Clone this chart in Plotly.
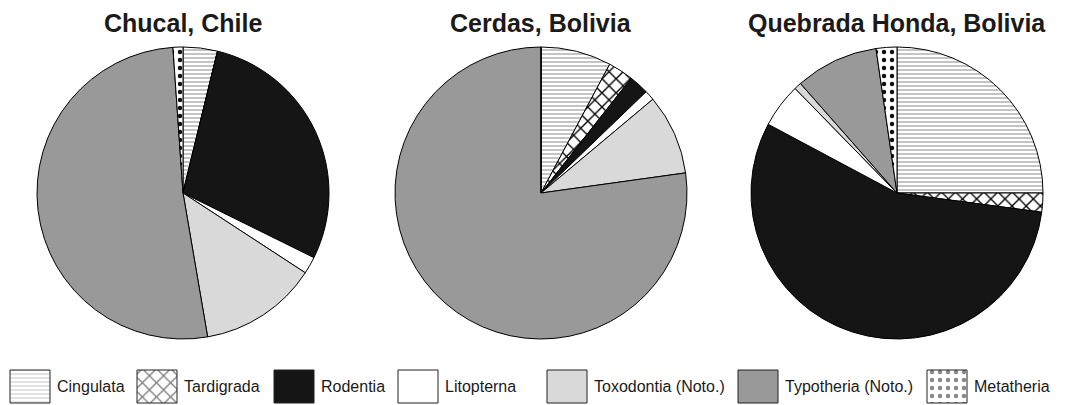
import plotly.graph_objects as go

categories = ["Cingulata", "Tardigrada", "Rodentia", "Litopterna",
              "Toxodontia (Noto.)", "Typotheria (Noto.)", "Metatheria"]
sites = ["Chucal, Chile", "Cerdas, Bolivia", "Quebrada Honda, Bolivia"]
chucal = [3.8, 0.0, 28.5, 1.9, 13.1, 51.6, 1.1]
cerdas = [7.8, 2.8, 2.2, 1.1, 8.9, 77.2, 0.0]
quebrada = [25.0, 2.1, 55.7, 4.9, 0.8, 9.2, 2.3]
series = [chucal, cerdas, quebrada]

# styles
colors = ["white", "white", "#151515", "white", "#d9d9d9", "#999999", "white"]
pat_shapes = ["-", "x", "", "", "", "", "."]
pat_fg = ["#8a8a8a", "#000000", "#151515", "white", "#d9d9d9", "#999999", "#111111"]
pat_size = [4, 10, 8, 8, 8, 8, 8]
pat_solid = [0.25, 0.25, 0.2, 0.2, 0.2, 0.2, 0.25]

# layout (page pixel coords; page has 8px body margin)
OFF = 8
W, H = 1066, 397
centers_x = [183, 541, 897]
center_y = 193
radius = 146
legend_box_x = [10, 137, 274, 398, 547, 738, 927]
legend_box_y = 370
box_w, box_h = 40, 33

fig = go.Figure()
for i, (site, vals) in enumerate(zip(sites, series)):
    cx = centers_x[i] - OFF
    cy = center_y - OFF
    fig.add_trace(go.Pie(
        labels=categories, values=vals, sort=False, direction="clockwise",
        rotation=0, textinfo="none", hoverinfo="label+percent",
        marker=dict(colors=colors, line=dict(color="black", width=1),
                    pattern=dict(shape=pat_shapes, fgcolor=pat_fg, bgcolor=colors,
                                 size=pat_size, solidity=pat_solid)),
        domain=dict(x=[(cx - radius) / W, (cx + radius) / W],
                    y=[1 - (cy + radius) / H, 1 - (cy - radius) / H]),
        showlegend=False,
    ))
    fig.add_annotation(text="<b>%s</b>" % site, x=cx, y=23 - OFF,
                       xref="x", yref="y", showarrow=False,
                       xanchor="center", yanchor="middle",
                       font=dict(size=25, color="#1a1a1a", family="Liberation Sans, Arial"))

# legend drawn as patterned boxes
for k, cat in enumerate(categories):
    x0 = legend_box_x[k] - OFF
    y0 = legend_box_y - OFF
    fig.add_trace(go.Scatter(
        x=[x0, x0 + box_w, x0 + box_w, x0, x0],
        y=[y0, y0, y0 + box_h, y0 + box_h, y0],
        mode="lines", fill="toself", fillcolor=colors[k],
        fillpattern=dict(shape=pat_shapes[k], fgcolor=pat_fg[k], bgcolor=colors[k],
                         size=pat_size[k], solidity=pat_solid[k]),
        line=dict(color="#222222", width=1), hoverinfo="skip", showlegend=False,
    ))
    fig.add_annotation(text=cat, x=x0 + box_w + 5, y=y0 + box_h / 2,
                       xref="x", yref="y", showarrow=False,
                       xanchor="left", yanchor="middle",
                       font=dict(size=16, color="#1a1a1a", family="Liberation Sans, Arial"))

fig.update_layout(
    width=W, height=H, margin=dict(l=0, r=0, t=0, b=0),
    paper_bgcolor="white", plot_bgcolor="white",
    font=dict(family="Liberation Sans, Arial", size=16, color="#111111"),
    xaxis=dict(range=[0, W], visible=False, fixedrange=True, domain=[0, 1]),
    yaxis=dict(range=[H, 0], visible=False, fixedrange=True, domain=[0, 1]),
    showlegend=False,
)
fig.write_html("out.html")
